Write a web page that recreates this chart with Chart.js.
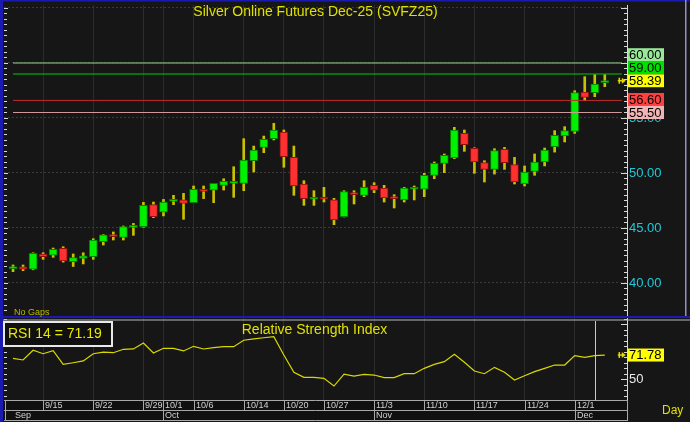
<!DOCTYPE html>
<html><head><meta charset="utf-8">
<script src="https://cdn.jsdelivr.net/npm/chart.js@4.4.1/dist/chart.umd.min.js"></script>
<style>html,body{margin:0;padding:0;background:#161616;}canvas{display:block}</style>
</head><body>
<canvas id="c" width="690" height="422"></canvas>
<script>
const dates = ['9/10','9/11','9/12','9/15','9/16','9/17','9/18','9/19','9/22','9/23','9/24','9/25','9/26','9/29','9/30',
 '10/1','10/2','10/3','10/6','10/7','10/8','10/9','10/10','10/14','10/15','10/16','10/17','10/20','10/21','10/22','10/23',
 '10/27','10/28','10/29','10/30','10/31','11/3','11/4','11/5','11/6','11/7','11/10','11/11','11/12','11/13','11/14',
 '11/17','11/18','11/19','11/20','11/21','11/24','11/25','11/26','11/27','11/28','12/1','12/2','12/3','12/4'];
const opens = [41.30,41.48,41.25,42.64,42.52,43.15,41.94,42.24,42.39,43.76,44.39,44.15,45.06,45.12,47.12,
 46.45,47.42,47.55,47.30,48.45,48.45,48.88,49.06,49.06,51.12,52.33,53.12,53.73,51.42,49.00,47.61,
 47.79,47.55,46.03,48.15,47.97,48.88,48.64,47.79,47.55,48.52,48.52,49.79,50.88,51.36,53.60,
 52.24,50.94,50.33,52.15,50.76,49.00,50.15,51.00,52.39,53.36,53.79,57.36,57.30,58.21];
const highs = [41.64,41.64,42.75,42.75,43.18,43.30,42.64,42.75,44.03,44.40,44.64,45.18,45.42,47.33,47.36,
 47.60,47.97,48.15,48.82,48.82,49.06,49.48,50.57,53.12,52.45,53.36,54.52,53.91,52.45,49.30,48.39,
 48.70,47.70,48.39,48.39,49.30,49.12,48.88,48.03,48.70,48.82,49.97,51.00,51.73,54.15,53.91,
 52.30,51.12,52.21,52.33,51.42,50.64,51.73,52.27,53.85,54.21,57.48,58.76,58.94,58.94];
const lows = [41.03,41.12,41.20,42.15,42.33,41.90,41.50,41.73,42.15,43.45,43.91,43.91,44.33,45.06,45.94,
 46.10,47.12,45.79,47.30,47.67,47.30,48.45,47.79,48.39,50.09,51.85,53.00,50.52,47.97,47.06,47.06,
 47.36,45.30,46.00,47.18,47.85,48.21,47.36,46.82,47.36,47.55,47.85,49.48,50.03,51.30,51.97,
 49.97,49.18,49.90,50.33,49.00,48.82,49.79,50.64,51.90,52.82,53.60,56.57,56.94,57.85];
const closes = [41.48,41.25,42.70,42.39,43.06,42.00,42.30,42.48,43.91,44.39,44.21,45.12,45.24,47.06,46.03,
 47.36,47.55,47.24,48.52,48.33,49.06,49.24,49.18,51.18,52.09,53.06,53.91,51.48,48.82,47.67,47.79,
 47.61,45.73,48.30,48.03,48.70,48.45,47.73,47.67,48.64,48.64,49.79,50.88,51.60,53.91,52.57,
 51.00,50.33,52.03,50.94,49.18,50.09,51.00,52.09,53.42,53.85,57.30,56.88,58.09,58.39];
const rsi = [68.8,67.3,76.1,73.0,75.8,63.3,64.8,66.4,73.0,74.5,73.9,77.0,77.3,82.7,73.6,
 77.9,77.9,75.5,79.7,77.3,78.5,79.4,79.4,85.2,86.4,87.5,88.5,71.8,56.1,51.5,51.5,
 50.6,43.6,54.5,52.7,54.2,53.6,51.2,51.2,54.8,54.8,59.7,63.3,65.8,72.4,65.2,
 57.3,54.8,60.6,56.1,49.1,53.0,56.7,59.7,62.7,62.7,71.2,69.7,71.19,71.78];
const levelValues = [60.00, 59.00, 56.60, 55.50];
const dateTickLabels = ['9/15','9/22','9/29','10/1','10/6','10/14','10/20','10/27','11/3','11/10','11/17','11/24','12/1'];
const monthLabels = ['Sep','Oct','Nov','Dec'];
const priceTicks = [40,45,50,55,60,65];
const rsiTicks = [50];
const rsiPeriod = 14;
const cursorIndex = 58;

const FONT = '"Liberation Sans", Arial, sans-serif';
const levelLineColors = ['#90d890','#00c800','#c82828','#d09898'];
const levelTagColors = ['#98e898','#00e000','#ff4040','#f0b4b4'];
const GREEN = '#00f000', RED = '#ff3030';

const N = dates.length;
const tickIdx = dateTickLabels.map(l => dates.indexOf(l));
const monthIdx = [];
dates.forEach((d,i) => { const m = d.split('/')[0]; if (i === 0 || m !== dates[i-1].split('/')[0]) monthIdx.push(i); });

const wickData = dates.map((d,i) => ({x:i, y:[lows[i], highs[i]]}));
const bodyData = dates.map((d,i) => ({x:i, y:[opens[i], closes[i]]}));
const bodyFill = dates.map((d,i) => closes[i] >= opens[i] ? GREEN : RED);
const bodyEdge = dates.map((d,i) => closes[i] >= opens[i] ? '#008000' : '#901010');
const rsiData = rsi.map((v,i) => ({x:i, y:v}));

const levelSets = levelValues.map((v,k) => ({
  type:'line', data:[{x:0,y:v},{x:60.7,y:v}], yAxisID:'y', borderColor:levelLineColors[k],
  borderWidth:1, pointRadius:0, order:0
}));

const PPU = 11;           // px per price unit
const pMax = 65 + 3/PPU, pMin = pMax - 313/PPU;
const rMax = 50 + 61/1.1, rMin = 50 - 21/1.1;
const xMin = -0.9, xMax = xMin + 623/10.03;
const noPad = s => { s.width = 63; s.paddingTop = 0; s.paddingBottom = 0; };

const deco = {
  id:'deco',
  beforeDraw(chart){
    const ctx = chart.ctx; ctx.save(); ctx.fillStyle='#161616'; ctx.fillRect(0,0,chart.width,chart.height); ctx.restore();
  },
  afterDraw(chart){
    const {ctx, chartArea:ca} = chart; const {x, y, yR} = chart.scales;
    ctx.save();
    // minor ticks
    ctx.strokeStyle='#d8d8d8'; ctx.lineWidth=1;
    for (let k=Math.ceil(y.min*2); k<=Math.floor(y.max*2); k++){
      const v=k/2, py=Math.round(y.getPixelForValue(v))+0.5, major=(k%10===0);
      ctx.beginPath(); ctx.moveTo(ca.left, py); ctx.lineTo(ca.left+(major?4:3), py); ctx.stroke();
      ctx.beginPath(); ctx.moveTo(ca.right, py); ctx.lineTo(ca.right-(major?6:3), py); ctx.stroke();
    }
    for (let v=Math.ceil(yR.min/5)*5; v<=yR.max; v+=5){
      const py=Math.round(yR.getPixelForValue(v))+0.5;
      ctx.beginPath(); ctx.moveTo(ca.left, py); ctx.lineTo(ca.left+3, py); ctx.stroke();
      ctx.beginPath(); ctx.moveTo(ca.right, py); ctx.lineTo(ca.right-(v%50===0?6:3), py); ctx.stroke();
    }
    // last price arrows
    const arrow = (py) => {
      const ax = x.getPixelForValue(N-1)+13;
      ctx.strokeStyle='#e0d800'; ctx.fillStyle='#e0d800'; ctx.lineWidth=1.5;
      ctx.beginPath(); ctx.moveTo(ax, py); ctx.lineTo(ax+5, py); ctx.stroke();
      ctx.beginPath(); ctx.moveTo(ax+1.5, py-3); ctx.lineTo(ax+1.5, py+3); ctx.stroke();
      ctx.beginPath(); ctx.moveTo(ax+8, py); ctx.lineTo(ax+4, py-3); ctx.lineTo(ax+4, py+3); ctx.closePath(); ctx.fill();
    };
    arrow(y.getPixelForValue(closes[N-1]));
    arrow(yR.getPixelForValue(rsi[N-1]));
    // price tags
    const tags = levelValues.map((v,k)=>({v, bg:levelTagColors[k]})).concat([{v:closes[N-1], bg:'#ffff00'}]);
    tags.forEach(t => t.py = y.getPixelForValue(t.v));
    tags.sort((a,b)=>b.py-a.py);
    let prev = Infinity;
    ctx.font = '13px '+FONT; ctx.textBaseline='middle'; ctx.textAlign='left';
    tags.forEach(t => {
      const c = Math.min(t.py, prev-13); prev = c;
      ctx.fillStyle=t.bg; ctx.fillRect(ca.right+1, c-6.5, 36, 13);
      ctx.fillStyle='#000'; ctx.fillText(t.v.toFixed(2), ca.right+2, c+0.5);
    });
    // RSI tag
    const rp = yR.getPixelForValue(rsi[N-1]);
    ctx.fillStyle='#ffff00'; ctx.fillRect(ca.right+1, rp-6.5, 36, 13);
    ctx.fillStyle='#000'; ctx.fillText(rsi[N-1].toFixed(2), ca.right+2, rp+0.5);
    // cursor line in RSI pane
    const cx = Math.round(x.getPixelForValue(cursorIndex))+0.5;
    ctx.strokeStyle='#c8c8c8'; ctx.lineWidth=1;
    ctx.beginPath(); ctx.moveTo(cx, yR.top+3); ctx.lineTo(cx, yR.bottom); ctx.stroke();
    // frames
    ctx.fillStyle='#1a1ab0';
    ctx.fillRect(0,0,chart.width,1.5);
    ctx.fillRect(0,0,3,chart.height);
    ctx.fillRect(0,316,chart.width,2);
    ctx.fillStyle='#b8b8b8'; ctx.fillRect(3,319.5,chart.width-3,1);
    ctx.fillStyle='#9090c0'; ctx.fillRect(685,0,1.5,316);
    // titles
    ctx.fillStyle='#e0e000'; ctx.font='14px '+FONT; ctx.textAlign='center'; ctx.textBaseline='middle';
    ctx.fillText('Silver Online Futures Dec-25 (SVFZ25)', 315.5, 12);
    ctx.fillText('Relative Strength Index', 314.5, 330);
    ctx.textAlign='left';
    ctx.font='9px '+FONT; ctx.fillStyle='#b8b800'; ctx.fillText('No Gaps', 14, 313);
    ctx.font='12px '+FONT; ctx.fillStyle='#e0e000'; ctx.fillText('Day', 662, 411);
    // RSI box
    ctx.fillStyle='#101010'; ctx.fillRect(4,322,108,24);
    ctx.strokeStyle='#e8e8e8'; ctx.lineWidth=2; ctx.strokeRect(4,322,108,24);
    ctx.fillStyle='#e8e800'; ctx.font='14px '+FONT;
    ctx.fillText('RSI '+rsiPeriod+' = '+rsi[cursorIndex].toFixed(2), 8, 334.5);
    // bottom date rows
    const top = ca.bottom;
    ctx.fillStyle='#101010'; ctx.fillRect(3, top, ca.right-3, 21);
    ctx.strokeStyle='#a8a8a8'; ctx.lineWidth=1;
    [top+0.5, top+10.5, top+20.5].forEach(yy => { ctx.beginPath(); ctx.moveTo(4,yy); ctx.lineTo(ca.right,yy); ctx.stroke(); });
    ctx.beginPath(); ctx.moveTo(5.5, top); ctx.lineTo(5.5, top+21); ctx.stroke();
    ctx.beginPath(); ctx.moveTo(ca.right+0.5, top); ctx.lineTo(ca.right+0.5, top+21); ctx.stroke();
    ctx.font='9px '+FONT; ctx.textBaseline='middle';
    tickIdx.forEach((ti,k) => {
      const px = Math.round(x.getPixelForValue(ti))+0.5;
      ctx.strokeStyle='#a8a8a8'; ctx.beginPath(); ctx.moveTo(px, top); ctx.lineTo(px, top+10); ctx.stroke();
      ctx.fillStyle='#d0d0d0'; ctx.fillText(dateTickLabels[k], px+1.5, top+6);
    });
    monthIdx.forEach((mi,k) => {
      const px = Math.round(x.getPixelForValue(mi))+0.5;
      if (mi>0){ ctx.strokeStyle='#a8a8a8'; ctx.beginPath(); ctx.moveTo(px, top+10); ctx.lineTo(px, top+20); ctx.stroke(); }
      ctx.fillStyle='#d0d0d0'; ctx.fillText(monthLabels[k], px+1.5, top+16);
    });
    ctx.restore();
  }
};

new Chart(document.getElementById('c'), {
  type:'bar',
  data:{ datasets:[
    ...levelSets,
    { type:'bar', data:bodyData, yAxisID:'y', backgroundColor:bodyFill, borderColor:bodyEdge, borderWidth:1,
      borderSkipped:false, barThickness:8, grouped:false, minBarLength:2, order:1 },
    { type:'bar', data:wickData, yAxisID:'y', backgroundColor:'#c8c000', borderWidth:0,
      barThickness:2, grouped:false, order:2 },
    { type:'line', data:rsiData, yAxisID:'yR', borderColor:'#d8d800', borderWidth:1.2, pointRadius:0, tension:0, order:0 }
  ]},
  options:{
    responsive:false, animation:false, devicePixelRatio:1, events:[],
    layout:{ autoPadding:false, padding:{ top:5, left:4, right:0, bottom:0 } },
    plugins:{ legend:{display:false}, tooltip:{enabled:false}, title:{display:false} },
    scales:{
      x:{ type:'linear', min:xMin, max:xMax, offset:false,
          afterBuildTicks: s => { s.ticks = tickIdx.map(v => ({value:v})); },
          ticks:{ display:false }, grid:{ color:'#2c2c2c', drawTicks:false, offset:false },
          border:{ display:false }, afterFit: s => { s.height = 22; s.paddingLeft = 0; s.paddingRight = 0; } },
      y:{ type:'linear', position:'right', stack:'panes', stackWeight:313, min:pMin, max:pMax,
          afterBuildTicks: s => { s.ticks = priceTicks.map(v => ({value:v})); },
          ticks:{ color:'#22c8d8', font:{size:13, family:FONT}, padding:2,
                  callback: v => (v <= 55 ? v.toFixed(2) : '') },
          grid:{ color:'#3a3a3a', drawTicks:false }, border:{ display:true, color:'#d8d8d8', dash:[2,2] },
          afterFit: noPad },
      yR:{ type:'linear', position:'right', stack:'panes', stackWeight:82, min:rMin, max:rMax,
          afterBuildTicks: s => { s.ticks = rsiTicks.map(v => ({value:v})); },
          ticks:{ color:'#e8e8e8', font:{size:13, family:FONT}, padding:2, callback: v => String(v) },
          grid:{ display:false, drawTicks:false }, border:{ display:true, color:'#d8d8d8' },
          afterFit: noPad }
    }
  },
  plugins:[deco]
});
</script>
</body></html>
